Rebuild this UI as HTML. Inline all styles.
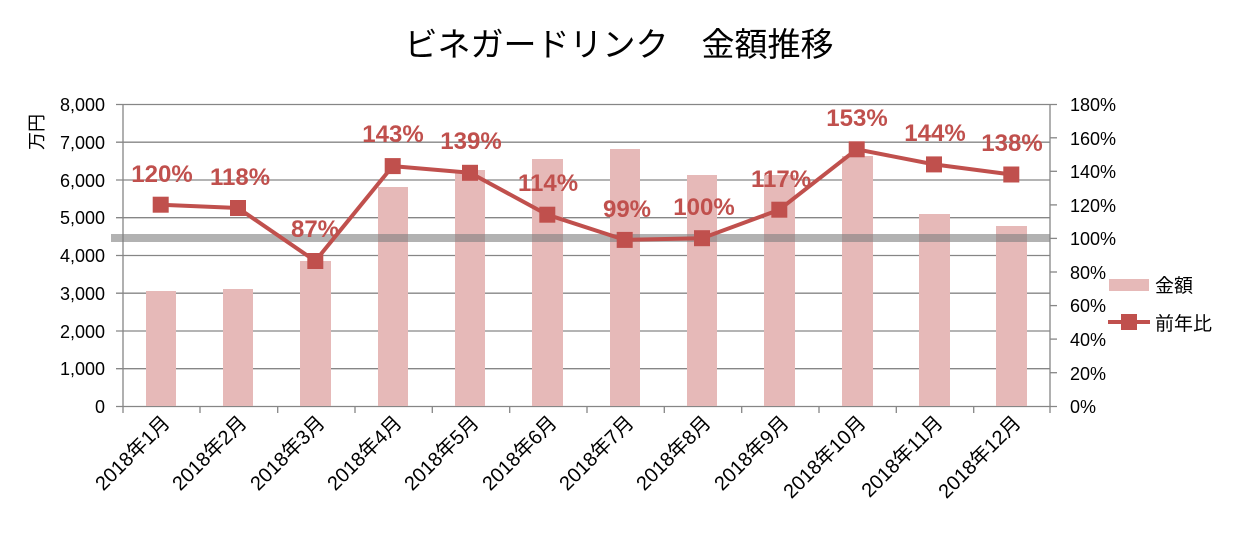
<!DOCTYPE html>
<html><head><meta charset="utf-8"><style>body{margin:0;background:#fff}svg{display:block}</style></head><body>
<svg width="1238" height="539" viewBox="0 0 1238 539" xmlns="http://www.w3.org/2000/svg" font-family="'Liberation Sans','Noto Sans CJK JP',sans-serif">
<rect width="1238" height="539" fill="#fff"/>
<text x="619" y="56" font-size="33" text-anchor="middle" fill="#000">ビネガードリンク　金額推移</text>
<g stroke="#868686" stroke-width="1.3">
<line x1="116" y1="104.5" x2="1057" y2="104.5"/>
<line x1="116" y1="142.2" x2="1050" y2="142.2"/>
<line x1="116" y1="180" x2="1050" y2="180"/>
<line x1="116" y1="217.7" x2="1050" y2="217.7"/>
<line x1="116" y1="255.5" x2="1050" y2="255.5"/>
<line x1="116" y1="293.2" x2="1050" y2="293.2"/>
<line x1="116" y1="331" x2="1050" y2="331"/>
<line x1="116" y1="368.7" x2="1050" y2="368.7"/>
<line x1="116" y1="406.5" x2="1057" y2="406.5"/>
<line x1="123" y1="104" x2="123" y2="413"/>
<line x1="1050" y1="104" x2="1050" y2="413"/>
<g>
<line x1="1050" y1="137.8" x2="1057" y2="137.8"/><line x1="1050" y1="171.3" x2="1057" y2="171.3"/><line x1="1050" y1="204.9" x2="1057" y2="204.9"/><line x1="1050" y1="238.4" x2="1057" y2="238.4"/><line x1="1050" y1="272" x2="1057" y2="272"/><line x1="1050" y1="305.6" x2="1057" y2="305.6"/><line x1="1050" y1="339.1" x2="1057" y2="339.1"/><line x1="1050" y1="372.7" x2="1057" y2="372.7"/>
</g>
<g>
<line x1="200" y1="406" x2="200" y2="413"/><line x1="277.7" y1="406" x2="277.7" y2="413"/><line x1="355" y1="406" x2="355" y2="413"/><line x1="432.3" y1="406" x2="432.3" y2="413"/><line x1="509.7" y1="406" x2="509.7" y2="413"/><line x1="587" y1="406" x2="587" y2="413"/><line x1="664.3" y1="406" x2="664.3" y2="413"/><line x1="741.7" y1="406" x2="741.7" y2="413"/><line x1="819" y1="406" x2="819" y2="413"/><line x1="896.3" y1="406" x2="896.3" y2="413"/><line x1="973.7" y1="406" x2="973.7" y2="413"/>
</g>
</g>
<g fill="#e6b9b8">
<rect x="146" y="291" width="30" height="115"/>
<rect x="223" y="289" width="30" height="117"/>
<rect x="300" y="261" width="31" height="145"/>
<rect x="378" y="187" width="30" height="219"/>
<rect x="455" y="170" width="30" height="236"/>
<rect x="532" y="159" width="31" height="247"/>
<rect x="610" y="149" width="30" height="257"/>
<rect x="687" y="175" width="30" height="231"/>
<rect x="764" y="175" width="31" height="231"/>
<rect x="842" y="156" width="31" height="250"/>
<rect x="919" y="214" width="31" height="192"/>
<rect x="996" y="226" width="31" height="180"/>
</g>
<rect x="111" y="234" width="939" height="8" fill="#7f7f7f" opacity="0.6"/>
<polyline fill="none" stroke="#c0504d" stroke-width="4" stroke-linejoin="round" points="160.7,204.7 238,208 315.3,261 392.7,166.1 470,172.8 547.3,214.7 624.7,239.9 702,238.2 779.3,209.7 856.7,149.3 934,164.4 1011.3,174.5"/>
<g fill="#c0504d">
<rect x="152.7" y="196.7" width="16" height="16"/><rect x="230" y="200" width="16" height="16"/><rect x="307.3" y="253" width="16" height="16"/><rect x="384.7" y="158.1" width="16" height="16"/><rect x="462" y="164.8" width="16" height="16"/><rect x="539.3" y="206.7" width="16" height="16"/><rect x="616.7" y="231.9" width="16" height="16"/><rect x="694" y="230.2" width="16" height="16"/><rect x="771.3" y="201.7" width="16" height="16"/><rect x="848.7" y="141.3" width="16" height="16"/><rect x="926" y="156.4" width="16" height="16"/><rect x="1003.3" y="166.5" width="16" height="16"/>
</g>
<g fill="#c0504d" font-size="24" font-weight="bold" text-anchor="middle">
<text x="162" y="182">120%</text><text x="240" y="185">118%</text><text x="315" y="237">87%</text><text x="393" y="142">143%</text><text x="471" y="149">139%</text><text x="548" y="191">114%</text><text x="627" y="217">99%</text><text x="704" y="215">100%</text><text x="781" y="187">117%</text><text x="857" y="126">153%</text><text x="935" y="141">144%</text><text x="1012" y="151">138%</text>
</g>
<g font-size="18" fill="#000" text-anchor="end">
<text x="105" y="111">8,000</text><text x="105" y="149">7,000</text><text x="105" y="187">6,000</text><text x="105" y="224">5,000</text><text x="105" y="262">4,000</text><text x="105" y="300">3,000</text><text x="105" y="338">2,000</text><text x="105" y="375">1,000</text><text x="105" y="413">0</text>
</g>
<g font-size="18" fill="#000">
<text x="1070" y="111">180%</text><text x="1070" y="145">160%</text><text x="1070" y="178">140%</text><text x="1070" y="212">120%</text><text x="1070" y="245">100%</text><text x="1070" y="279">80%</text><text x="1070" y="312">60%</text><text x="1070" y="346">40%</text><text x="1070" y="380">20%</text><text x="1070" y="413">0%</text>
</g>
<text transform="translate(43,132) rotate(-90)" font-size="18" text-anchor="middle" fill="#000">万円</text>
<g font-size="20" fill="#000" text-anchor="end">
<text transform="translate(171,424) rotate(-45)">2018年1月</text>
<text transform="translate(248,424) rotate(-45)">2018年2月</text>
<text transform="translate(326,424) rotate(-45)">2018年3月</text>
<text transform="translate(403,424) rotate(-45)">2018年4月</text>
<text transform="translate(480,424) rotate(-45)">2018年5月</text>
<text transform="translate(558,424) rotate(-45)">2018年6月</text>
<text transform="translate(635,424) rotate(-45)">2018年7月</text>
<text transform="translate(712,424) rotate(-45)">2018年8月</text>
<text transform="translate(790,424) rotate(-45)">2018年9月</text>
<text transform="translate(867,424) rotate(-45)">2018年10月</text>
<text transform="translate(944,424) rotate(-45)">2018年11月</text>
<text transform="translate(1022,424) rotate(-45)">2018年12月</text>
</g>
<rect x="1109" y="279" width="40" height="12" fill="#e6b9b8"/>
<text x="1155" y="292" font-size="19" fill="#000">金額</text>
<line x1="1108" y1="322" x2="1150" y2="322" stroke="#c0504d" stroke-width="4"/>
<rect x="1121" y="314" width="16" height="16" fill="#c0504d"/>
<text x="1155" y="330" font-size="19" fill="#000">前年比</text>
</svg>
</body></html>
